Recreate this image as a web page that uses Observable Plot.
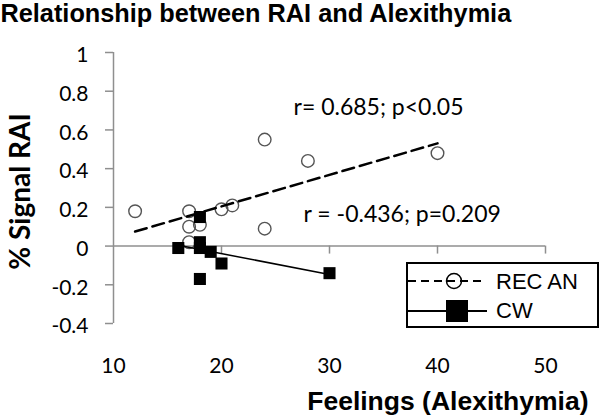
<!DOCTYPE html>
<html>
<head>
<meta charset="utf-8">
<script src="https://cdn.jsdelivr.net/npm/d3@7"></script>
<script src="https://cdn.jsdelivr.net/npm/@observablehq/plot@0.6"></script>
<style>
  html, body { margin: 0; padding: 0; background: white; }
  #chart { width: 600px; height: 416px; }
</style>
</head>
<body>
<div id="chart"></div>
<script>
// ---- data ----
const recX = [12, 17, 17, 17, 18, 20, 21, 24, 24, 28, 40];
const recY = [0.18, 0.18, 0.10, 0.02, 0.11, 0.19, 0.21, 0.55, 0.09, 0.44, 0.48];
const cwX = [16, 18, 18, 18, 18, 19, 20, 30];
const cwY = [-0.01, 0.15, 0.02, -0.01, -0.17, -0.03, -0.09, -0.14];
const xTicks = [10, 20, 30, 40, 50];
const yTicks = [-0.4, -0.2, 0, 0.2, 0.4, 0.6, 0.8, 1];
const seriesNames = ["REC AN", "CW"];
const titleText = "Relationship between RAI and Alexithymia";
const xLabel = "Feelings (Alexithymia)";
const yLabel = "% Signal RAI";
const annotRec = "r= 0.685; p<0.05";
const annotCw = "r = -0.436; p=0.209";

const rec = recX.map((x, i) => ({x, y: recY[i]}));
const cw = cwX.map((x, i) => ({x, y: cwY[i]}));

const gray = "#8f8f8f";
const calibri = "Lato, 'Open Sans', sans-serif";
const arial = "'Liberation Sans', Arial, sans-serif";

const svg = Plot.plot({
  width: 600,
  height: 416,
  marginLeft: 113,
  marginRight: 55,
  marginTop: 52,
  marginBottom: 93,
  style: {background: "white", overflow: "visible"},
  x: {domain: [xTicks[0], xTicks[xTicks.length - 1]], axis: null},
  y: {domain: [yTicks[0], yTicks[yTicks.length - 1]], axis: null},
  marks: [
    // axes lines
    Plot.ruleX([xTicks[0]], {y1: yTicks[0], y2: yTicks[yTicks.length - 1], stroke: gray, strokeWidth: 1.5}),
    Plot.ruleY([0], {x1: xTicks[0], x2: xTicks[xTicks.length - 1], stroke: gray, strokeWidth: 1.5}),
    // y ticks (to the left of the axis)
    Plot.ruleY(yTicks, {y: d => d, x1: xTicks[0], x2: xTicks[0], insetLeft: -8, stroke: gray, strokeWidth: 1.5}),
    // x ticks (below the zero line)
    Plot.ruleX(xTicks.slice(1), {x: d => d, y1: 0, y2: 0, insetBottom: -8, stroke: gray, strokeWidth: 1.5}),
    // tick labels
    Plot.text(yTicks, {y: d => d, text: d => String(d), frameAnchor: "left", textAnchor: "end", dx: -25, dy: 3,
      fontFamily: calibri, fontSize: 21, fill: "black"}),
    Plot.text(xTicks, {x: d => d, text: d => String(d), frameAnchor: "bottom", lineAnchor: "middle", dy: 43,
      fontFamily: calibri, fontSize: 21, fill: "black"}),
    // data
    Plot.dot(rec, {x: "x", y: "y", r: 6.3, stroke: "#555", strokeWidth: 1.4, fill: "none"}),
    Plot.dot(cw, {x: "x", y: "y", symbol: "square", r: 6.8, fill: "black", stroke: "none"}),
    Plot.linearRegressionY(rec, {x: "x", y: "y", stroke: "black", strokeWidth: 2.5, strokeDasharray: "12,6", ci: 0}),
    Plot.linearRegressionY(cw, {x: "x", y: "y", stroke: "black", strokeWidth: 1.5, ci: 0}),
    // annotations
    Plot.text([annotRec], {x: 26.67, y: 0.713, text: d => d, textAnchor: "start", lineAnchor: "middle",
      fontFamily: calibri, fontSize: 23, fill: "black"}),
    Plot.text([annotCw], {x: 27.6, y: 0.163, text: d => d, textAnchor: "start", lineAnchor: "middle",
      fontFamily: calibri, fontSize: 23, fill: "black"}),
    // titles
    Plot.text([titleText], {frameAnchor: "top-left", text: d => d, textAnchor: "start", lineAnchor: "top",
      dx: -113, dy: -48, fontFamily: arial, fontWeight: "bold", fontSize: 25.3, fill: "black"}),
    Plot.text([xLabel], {frameAnchor: "bottom-right", text: d => d, textAnchor: "end", lineAnchor: "middle",
      dx: 43, dy: 78, fontFamily: arial, fontWeight: "bold", fontSize: 26.5, fill: "black"}),
    Plot.text([yLabel], {frameAnchor: "left", text: d => d, rotate: -90, textAnchor: "middle", lineAnchor: "middle",
      dx: -92, dy: 3.5, fontFamily: calibri, fontWeight: "bold", fontSize: 28, fill: "black"})
  ]
});

// legend box (drawn into the same SVG)
const lg = d3.select(svg).append("g").attr("transform", "translate(407,263)").attr("text-anchor", "start");
lg.append("rect").attr("x", 0).attr("y", 0).attr("width", 191).attr("height", 64)
  .attr("fill", "white").attr("stroke", "black").attr("stroke-width", 2);
// row 1: dashed line + hollow circle
lg.append("line").attr("x1", 1).attr("x2", 74).attr("y1", 18).attr("y2", 18)
  .attr("stroke", "black").attr("stroke-width", 2).attr("stroke-dasharray", "8,5");
lg.append("circle").attr("cx", 47).attr("cy", 18).attr("r", 7.5)
  .attr("fill", "none").attr("stroke", "black").attr("stroke-width", 1.5);
// row 2: solid line + filled square
lg.append("line").attr("x1", 1).attr("x2", 80).attr("y1", 48).attr("y2", 48)
  .attr("stroke", "black").attr("stroke-width", 2);
lg.append("rect").attr("x", 50 - 11).attr("y", 48 - 11).attr("width", 22).attr("height", 22).attr("fill", "black");
lg.selectAll("text.leg").data(seriesNames).join("text").attr("class", "leg")
  .attr("x", 89).attr("y", (d, i) => i === 0 ? 18 : 47).attr("dy", "0.36em")
  .attr("text-anchor", "start")
  .attr("font-family", arial).attr("font-size", 22).attr("fill", "black").text(d => d);

document.getElementById("chart").appendChild(svg);
</script>
</body>
</html>
